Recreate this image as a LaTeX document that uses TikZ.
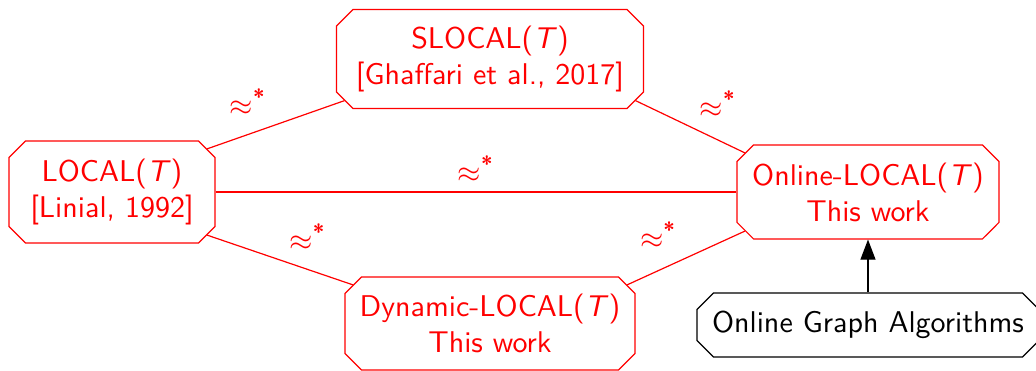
\documentclass[tikz,border=0pt]{standalone}
\usetikzlibrary{shapes.misc,arrows.meta}
\begin{document}
\begin{tikzpicture}[x=0.33333pt,y=-0.33333pt,
  box/.style={chamfered rectangle, chamfered rectangle xsep=2.75pt, chamfered rectangle ysep=2.75pt,
    draw=red, text=red, align=center, font=\sffamily, inner sep=0pt},
  blackbox/.style={box, draw=black, text=black},
  rel/.style={red},
  eqlab/.style={text=red, inner sep=3pt}]
\useasboundingbox (0,0) rectangle (1036,371);
\node[box, minimum width=68.7pt, minimum height=34pt] (local) at (112,192) {LOCAL(\textit{T})\\ {[}Linial, 1992{]}};
\node[box, minimum width=102.3pt, minimum height=33pt] (slocal) at (490,59) {SLOCAL(\textit{T})\\ {[}Ghaffari et al., 2017{]}};
\node[box, minimum width=87.3pt, minimum height=31.3pt] (online) at (868,192) {Online-LOCAL(\textit{T})\\ This work};
\node[box, minimum width=96.7pt, minimum height=31pt] (dynamic) at (490,323.5) {Dynamic-LOCAL(\textit{T})\\ This work};
\node[blackbox, minimum width=114pt, minimum height=21.3pt] (oga) at (868,325) {Online Graph Algorithms};
\draw[rel] (local.north east) -- node[eqlab, above left] {$\approx^{\hbox{\sffamily\bfseries\scriptsize *}}$} (slocal.south west);
\draw[rel] (slocal.south east) -- node[eqlab, above right] {$\approx^{\hbox{\sffamily\bfseries\scriptsize *}}$} (online.north west);
\draw[rel] (local.east) -- node[eqlab, above] {$\approx^{\hbox{\sffamily\bfseries\scriptsize *}}$} (online.west);
\draw[rel] (local.south east) -- node[eqlab, above right] {$\approx^{\hbox{\sffamily\bfseries\scriptsize *}}$} (dynamic.north west);
\draw[rel] (dynamic.north east) -- node[eqlab, above left] {$\approx^{\hbox{\sffamily\bfseries\scriptsize *}}$} (online.south west);
\draw[-{Triangle[length=6.7pt,width=5pt]}] (oga.north) -- (online.south);
\end{tikzpicture}
\end{document}
